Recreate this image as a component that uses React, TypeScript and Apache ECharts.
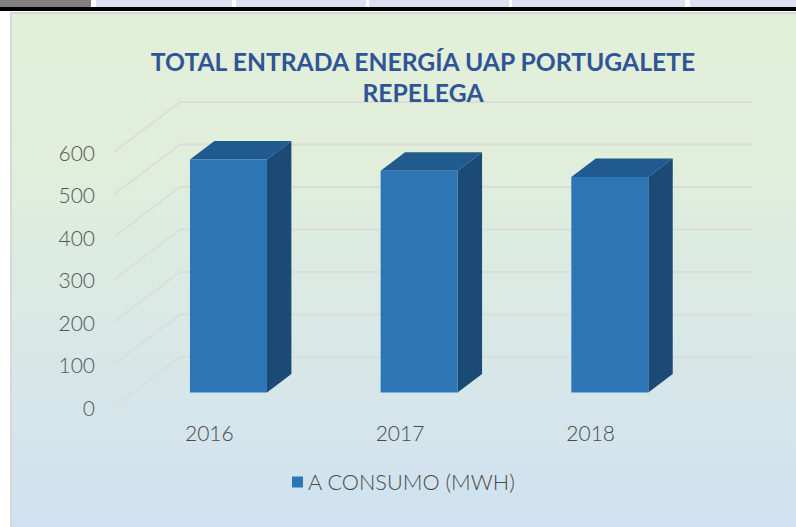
import React, { useEffect, useRef } from "react";
import * as echarts from "echarts";

const titleText = "TOTAL ENTRADA ENERGÍA UAP PORTUGALETE\nREPELEGA";
const categories = ["2016", "2017", "2018"];
const consumo = [548, 522, 507];
const seriesName = "A CONSUMO (MWH)";
const gridTicks = [0, 100, 200, 300, 400, 500, 600];
const headerCells = [
  [96, 136], [236, 130], [369, 140], [512, 173], [690, 106],
];

const FONT = "Lato";
const DX = 66, DY = -50;        // depth of the 3D box
const NEAR = 0.29, FAR = 0.66;  // bar depth range
const BAR_W = 77;

export default function App() {
  const ref = useRef<HTMLDivElement>(null);
  useEffect(() => {
    document.body.style.margin = "0";
    const chart = echarts.init(ref.current!, null, { renderer: "svg" });
    chart.setOption({
      animation: false,
      backgroundColor: "#ffffff",
      textStyle: { fontFamily: FONT },
      graphic: [
        { type: "rect", z: 0, shape: { x: 11, y: 13, width: 795, height: 524 },
          style: { fill: new echarts.graphic.LinearGradient(0, 0, 0, 1, [
            { offset: 0, color: "#e2efd9" }, { offset: 0.25, color: "#e1efda" },
            { offset: 1, color: "#cfe1f2" }]), stroke: "#d9d9d9", lineWidth: 2 } },
        { type: "rect", z: 1, shape: { x: 0, y: 0, width: 91, height: 8 }, style: { fill: "#808080" } },
        ...headerCells.map(([x, w]) => ({ type: "rect", z: 1, shape: { x, y: 0, width: w, height: 8 }, style: { fill: "#dce1f2" } })),
        { type: "rect", z: 2, shape: { x: 0, y: 7, width: 796, height: 4 }, style: { fill: "#000000" } },
      ],
      title: {
        text: titleText, left: 418, top: 41, textAlign: "center",
        textStyle: { fontFamily: FONT, fontWeight: 700, fontSize: 24.7, lineHeight: 31, color: "#2f5597" },
      },
      legend: {
        left: 287, top: 466, icon: "rect", itemWidth: 11, itemHeight: 11, itemGap: 6,
        data: [{ name: seriesName, itemStyle: { color: "#2e75b6" } }],
        textStyle: { fontFamily: FONT, fontWeight: 300, fontSize: 21.7, color: "#4a4a4a" },
      },
      grid: { left: 114, right: 110, top: 152, bottom: 120 },
      xAxis: {
        type: "category", data: categories,
        axisLine: { show: false }, axisTick: { show: false }, splitLine: { show: false },
        axisLabel: { fontFamily: FONT, fontWeight: 300, fontSize: 21, color: "#4a4a4a", margin: 15 },
      },
      yAxis: {
        type: "value", min: 0, max: 600, interval: 100,
        axisLine: { show: false }, axisTick: { show: false }, splitLine: { show: false },
        axisLabel: { fontFamily: FONT, fontWeight: 300, fontSize: 21, color: "#555555", margin: 19, padding: [0, 0, 2, 0] },
      },
      series: [
        {
          type: "custom", name: "grid", silent: true, z: 1,
          data: gridTicks.map((v) => [v]),
          renderItem: (_p: any, api: any) => {
            const v = api.value(0);
            const a = api.coord([0, v]);
            const size = api.size([1, 0]);
            const left = a[0] - size[0] / 2;
            const right = left + size[0] * categories.length;
            return {
              type: "polyline",
              shape: { points: [[left, a[1]], [left + DX, a[1] + DY], [right + DX, a[1] + DY]] },
              style: { stroke: "#dcdcdc", lineWidth: 1.8, fill: "none" },
            };
          },
        },
        {
          type: "custom", name: seriesName, z: 3,
          data: consumo.map((v, i) => [i, v]),
          itemStyle: { color: "#2e75b6" },
          renderItem: (_p: any, api: any) => {
            const top = api.coord([api.value(0), api.value(1)]);
            const bot = api.coord([api.value(0), 0]);
            const fx = top[0] + DX * NEAR - BAR_W / 2;
            const ft = top[1] + DY * NEAR;
            const fb = bot[1] + DY * NEAR;
            const sx = DX * (FAR - NEAR), sy = DY * (FAR - NEAR);
            return {
              type: "group",
              children: [
                { type: "polygon", shape: { points: [[fx, ft], [fx + BAR_W, ft], [fx + BAR_W + sx, ft + sy], [fx + sx, ft + sy]] },
                  style: { fill: "#215a8f" } },
                { type: "polygon", shape: { points: [[fx + BAR_W, ft], [fx + BAR_W + sx, ft + sy], [fx + BAR_W + sx, fb + sy], [fx + BAR_W, fb]] },
                  style: { fill: "#1c4a76" } },
                { type: "rect", shape: { x: fx, y: ft, width: BAR_W, height: fb - ft },
                  style: { fill: "#2e75b6" } },
              ],
            };
          },
        },
      ],
    });
    return () => chart.dispose();
  }, []);
  return <div ref={ref} style={{ position: "fixed", left: 0, top: 0, width: 796, height: 527 }} />;
}
